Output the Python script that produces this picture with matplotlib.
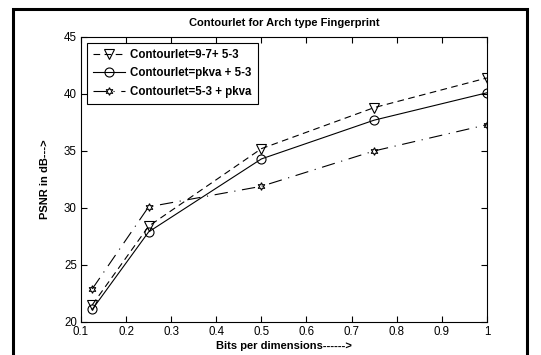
import matplotlib.pyplot as plt
import matplotlib.patches as mpatches

plt.rcParams['font.family'] = ['Liberation Sans', 'DejaVu Sans']

bits = [0.125, 0.25, 0.5, 0.75, 1.0]
psnr_97_53 = [21.5, 28.4, 35.2, 38.8, 41.4]
psnr_pkva_53 = [21.1, 27.9, 34.3, 37.7, 40.1]
psnr_53_pkva = [22.9, 30.1, 31.9, 35.0, 37.3]

labels = ['Contourlet=9-7+ 5-3', 'Contourlet=pkva + 5-3', 'Contourlet=5-3 + pkva']
xticks = [0.1, 0.2, 0.3, 0.4, 0.5, 0.6, 0.7, 0.8, 0.9, 1]
yticks = [20, 25, 30, 35, 40, 45]

fig = plt.figure(figsize=(5.41, 3.55), dpi=100)
ax = fig.add_axes([0.1497, 0.093, 0.7503, 0.803])

ax.plot(bits, psnr_97_53, color='black', linestyle=(0, (6, 4)), linewidth=0.8,
        marker='v', markersize=6.5, markerfacecolor='none', markeredgewidth=0.8, label=labels[0])
ax.plot(bits, psnr_pkva_53, color='black', linestyle='-', linewidth=0.8,
        marker='o', markersize=6.5, markerfacecolor='none', markeredgewidth=0.8, label=labels[1])
ax.plot(bits, psnr_53_pkva, color='black', linestyle=(0, (12, 6, 1, 6)), linewidth=0.8,
        marker=(6, 1, 0), markersize=5.5, markerfacecolor='none', markeredgewidth=0.8, label=labels[2])

ax.set_xlim(0.1, 1)
ax.set_ylim(20, 45)
ax.set_xticks(xticks)
ax.set_xticklabels(['0.1', '0.2', '0.3', '0.4', '0.5', '0.6', '0.7', '0.8', '0.9', '1'])
ax.set_yticks(yticks)
ax.tick_params(direction='in', top=True, right=True, labelsize=8.3, length=4, width=0.8)
ax.tick_params(axis='x', pad=3)
ax.tick_params(axis='y', pad=3)
for s in ax.spines.values():
    s.set_linewidth(0.8)

ax.set_title('Contourlet for Arch type Fingerprint', fontsize=8, fontweight='bold', pad=8)
ax.set_xlabel('Bits per dimensions------>', fontsize=8, fontweight='bold', labelpad=2)
ax.set_ylabel('PSNR in dB--->', fontsize=8, fontweight='bold', labelpad=10)

leg = ax.legend(loc='upper left', prop={'weight': 'bold', 'size': 8.3},
                fancybox=False, framealpha=1, edgecolor='black', handlelength=2.8,
                handletextpad=0.4, borderpad=0.55, labelspacing=0.55, borderaxespad=0.5)
leg.get_frame().set_linewidth(0.8)

# outer frame around the figure
frame = mpatches.Rectangle((0.024, -0.1), 0.95, 1.075, transform=fig.transFigure,
                           fill=False, edgecolor='black', linewidth=2.2, clip_on=False)
fig.patches.append(frame)

fig.savefig('out.png', dpi=100)
